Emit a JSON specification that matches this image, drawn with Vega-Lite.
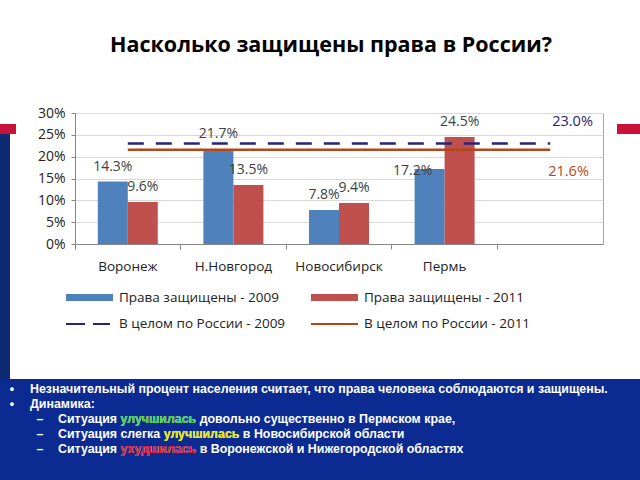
{
  "$schema": "https://vega.github.io/schema/vega-lite/v6.json",
  "padding": {"left": 0, "top": 34, "right": 0, "bottom": 0},
  "background": "white",
  "spacing": 0,
  "resolve": {"scale": {"color": "independent"}, "legend": {"color": "independent"}},
  "datasets": {
    "bars": [
      {"region": "Воронеж", "year": "2009", "series": "Права защищены - 2009", "value": 0.143},
      {"region": "Воронеж", "year": "2011", "series": "Права защищены - 2011", "value": 0.096},
      {"region": "Н.Новгород", "year": "2009", "series": "Права защищены - 2009", "value": 0.217},
      {"region": "Н.Новгород", "year": "2011", "series": "Права защищены - 2011", "value": 0.135},
      {"region": "Новосибирск", "year": "2009", "series": "Права защищены - 2009", "value": 0.078},
      {"region": "Новосибирск", "year": "2011", "series": "Права защищены - 2011", "value": 0.094},
      {"region": "Пермь", "year": "2009", "series": "Права защищены - 2009", "value": 0.172},
      {"region": "Пермь", "year": "2011", "series": "Права защищены - 2011", "value": 0.245}
    ],
    "lines": [
      {"region": "Воронеж", "series": "В целом по России - 2009", "value": 0.23},
      {"region": "Н.Новгород", "series": "В целом по России - 2009", "value": 0.23},
      {"region": "Новосибирск", "series": "В целом по России - 2009", "value": 0.23},
      {"region": "Пермь", "series": "В целом по России - 2009", "value": 0.23},
      {"region": "_", "series": "В целом по России - 2009", "value": 0.23},
      {"region": "Воронеж", "series": "В целом по России - 2011", "value": 0.216},
      {"region": "Н.Новгород", "series": "В целом по России - 2011", "value": 0.216},
      {"region": "Новосибирск", "series": "В целом по России - 2011", "value": 0.216},
      {"region": "Пермь", "series": "В целом по России - 2011", "value": 0.216},
      {"region": "_", "series": "В целом по России - 2011", "value": 0.216}
    ],
    "notes": [
      {"line": 1, "level": "top", "tone": "plain", "marker": "•", "text": "Незначительный процент населения считает, что права человека соблюдаются и защищены."},
      {"line": 2, "level": "top", "tone": "plain", "marker": "•", "text": "Динамика:"},
      {"line": 3, "level": "sub", "tone": "plain", "marker": "–", "text": "Ситуация улучшилась довольно существенно в Пермском крае,"},
      {"line": 4, "level": "sub", "tone": "plain", "marker": "–", "text": "Ситуация слегка улучшилась в Новосибирской области"},
      {"line": 5, "level": "sub", "tone": "plain", "marker": "–", "text": "Ситуация ухудшилась в Воронежской и Нижегородской областях"},
      {"line": 3, "level": "sub", "tone": "better", "marker": "", "text": "Ситуация улучшилась"},
      {"line": 4, "level": "sub", "tone": "slightly", "marker": "", "text": "Ситуация слегка улучшилась"},
      {"line": 5, "level": "sub", "tone": "worse", "marker": "", "text": "Ситуация ухудшилась"},
      {"line": 3, "level": "sub", "tone": "plain", "marker": "", "text": "Ситуация"},
      {"line": 4, "level": "sub", "tone": "plain", "marker": "", "text": "Ситуация слегка"},
      {"line": 5, "level": "sub", "tone": "plain", "marker": "", "text": "Ситуация"}
    ],
    "empty": []
  },
  "vconcat": [
    {
      "spacing": 13,
      "resolve": {"scale": {"color": "independent"}, "legend": {"color": "independent"}},
      "hconcat": [
        {
          "spacing": 0,
          "vconcat": [
            {"width": 23, "height": 11, "data": {"name": "empty"}, "mark": "point", "view": {"stroke": null}},
            {"width": 16, "height": 10, "data": {"name": "empty"}, "mark": "point", "view": {"stroke": null, "fill": "#c8123a"}},
            {"width": 10, "height": 245, "data": {"name": "empty"}, "mark": "point", "view": {"stroke": null, "fill": "#0c2a72"}}
          ]
        },
        {
          "width": 528,
          "height": 131,
          "title": {"text": "Насколько защищены права в России?", "font": "Open Sans", "fontSize": 21.5, "fontWeight": "bold", "color": "#000000", "anchor": "middle", "offset": 50, "dx": -8},
          "view": {"stroke": "#a6a6a6"},
          "encoding": {
            "x": {
              "field": "region", "type": "nominal", "title": null,
              "scale": {"domain": ["Воронеж", "Н.Новгород", "Новосибирск", "Пермь", "_"], "paddingInner": 0, "paddingOuter": 0},
              "axis": {"labelAngle": 0, "bandPosition": 0, "tickSize": 5, "labelPadding": 10, "domainColor": "#868686", "tickColor": "#868686", "labelFont": "Open Sans", "labelFontSize": 13.5, "labelColor": "#222222", "labelExpr": "datum.value == '_' ? '' : datum.label", "grid": false}
            },
            "y": {
              "field": "value", "type": "quantitative", "title": null,
              "scale": {"domain": [0, 0.3], "nice": false, "zero": true},
              "axis": {"values": [0, 0.05, 0.1, 0.15, 0.2, 0.25, 0.3], "format": ".0%", "grid": true, "gridColor": "#d9d9d9", "domainColor": "#868686", "tickColor": "#868686", "tickSize": 4, "labelPadding": 6, "labelFont": "Open Sans", "labelFontSize": 14, "labelColor": "#222222"}
            }
          },
          "layer": [
            {
              "data": {"name": "bars"},
              "mark": {"type": "bar"},
              "encoding": {
                "xOffset": {"field": "year", "type": "nominal", "scale": {"paddingInner": 0, "paddingOuter": 0.76}},
                "color": {
                  "field": "series", "type": "nominal",
                  "scale": {"domain": ["Права защищены - 2009", "Права защищены - 2011", "В целом по России - 2009", "В целом по России - 2011"], "range": ["#4f81bd", "#c0504d", "#24247a", "#b4471a"]},
                  "legend": {
                    "orient": "none", "direction": "horizontal", "legendX": -9, "legendY": 177.5, "columns": 2, "title": null, "padding": 0,
                    "clipHeight": 14, "rowPadding": 12.5, "columnPadding": 25, "symbolSize": 2209, "symbolOffset": 0,
                    "labelFont": "Open Sans", "labelFontSize": 13.5, "labelColor": "#222222", "labelOffset": 6, "labelLimit": 400,
                    "encode": {
                      "symbols": {
                        "update": {
                          "shape": {"signal": "datum.value == 'В целом по России - 2009' ? 'M-1,-0.047H-0.19V0.047H-1Z M0.15,-0.047H0.87V0.047H0.15Z' : (datum.value == 'В целом по России - 2011' ? 'M-1,-0.045H1V0.045H-1Z' : 'M-1,-0.15H1V0.15H-1Z')"},
                          "fill": {"scale": "color", "field": "value"},
                          "stroke": {"value": "transparent"},
                          "strokeWidth": {"value": 0},
                          "opacity": {"value": 1}
                        }
                      }
                    }
                  }
                }
              }
            },
            {
              "data": {"name": "bars"},
              "transform": [{"filter": "datum.value != 0.172"}],
              "mark": {"type": "text", "baseline": "middle", "align": "center", "dy": -15, "font": "Open Sans", "fontSize": 14, "color": "#404040"},
              "encoding": {
                "xOffset": {"field": "year", "type": "nominal", "scale": {"paddingInner": 0, "paddingOuter": 0.76}},
                "text": {"field": "value", "type": "quantitative", "format": ".1%"}
              }
            },
            {
              "data": {"name": "bars"},
              "transform": [{"filter": "datum.value == 0.172"}],
              "mark": {"type": "text", "baseline": "middle", "align": "center", "dx": -17, "dy": 2, "font": "Open Sans", "fontSize": 14, "color": "#404040"},
              "encoding": {
                "xOffset": {"field": "year", "type": "nominal", "scale": {"paddingInner": 0, "paddingOuter": 0.76}},
                "text": {"field": "value", "type": "quantitative", "format": ".1%"}
              }
            },
            {
              "data": {"name": "lines"},
              "mark": {"type": "line", "strokeWidth": 2.5},
              "encoding": {
                "color": {"field": "series", "type": "nominal"},
                "strokeDash": {"field": "series", "type": "nominal", "scale": {"domain": ["В целом по России - 2009", "В целом по России - 2011"], "range": [[16, 12], [1, 0]]}, "legend": null}
              }
            },
            {
              "data": {"name": "lines"},
              "transform": [{"filter": "datum.region == '_' && datum.series == 'В целом по России - 2009'"}],
              "mark": {"type": "text", "align": "left", "baseline": "middle", "dx": 2, "dy": -22, "font": "Open Sans", "fontSize": 14.5},
              "encoding": {
                "color": {"field": "series", "type": "nominal"},
                "text": {"field": "value", "type": "quantitative", "format": ".1%"}
              }
            },
            {
              "data": {"name": "lines"},
              "transform": [{"filter": "datum.region == '_' && datum.series == 'В целом по России - 2011'"}],
              "mark": {"type": "text", "align": "left", "baseline": "middle", "dx": -2, "dy": 22, "font": "Open Sans", "fontSize": 14.5},
              "encoding": {
                "color": {"field": "series", "type": "nominal"},
                "text": {"field": "value", "type": "quantitative", "format": ".1%"}
              }
            }
          ]
        },
        {
          "spacing": 0,
          "vconcat": [
            {"width": 25, "height": 11, "data": {"name": "empty"}, "mark": "point", "view": {"stroke": null}},
            {"width": 25, "height": 10, "data": {"name": "empty"}, "mark": "point", "view": {"stroke": null, "fill": "#c8123a"}}
          ]
        }
      ]
    },
    {
      "width": 640,
      "height": 104,
      "view": {"fill": "#0b2b93", "stroke": null},
      "data": {"name": "notes"},
      "encoding": {
        "x": {"field": "level", "type": "nominal", "scale": {"type": "point", "domain": ["top", "sub"], "range": [30, 58], "padding": 0}, "axis": null},
        "y": {"field": "line", "type": "quantitative", "scale": {"domain": [0.333, 7.27], "reverse": true, "nice": false, "zero": false}, "axis": null}
      },
      "layer": [
        {
          "transform": [{"filter": "datum.marker != ''"}],
          "mark": {"type": "text", "align": "center", "baseline": "middle", "dx": -18, "font": "Liberation Sans", "fontWeight": "bold", "fontSize": 12.4, "color": "#ffffff"},
          "encoding": {"text": {"field": "marker"}}
        },
        {
          "transform": [{"filter": "datum.marker != ''"}],
          "mark": {"type": "text", "align": "left", "baseline": "middle", "font": "Liberation Sans", "fontWeight": "bold", "fontSize": 12.4, "color": "#ffffff"},
          "encoding": {"text": {"field": "text"}}
        },
        {
          "transform": [{"filter": "datum.tone != 'plain'"}],
          "mark": {"type": "text", "align": "left", "baseline": "middle", "font": "Liberation Sans", "fontWeight": "bold", "fontSize": 12.4},
          "encoding": {
            "text": {"field": "text"},
            "color": {"field": "tone", "type": "nominal", "scale": {"domain": ["better", "slightly", "worse"], "range": ["#3fd43f", "#e6e600", "#e0102c"]}, "legend": null}
          }
        },
        {
          "transform": [{"filter": "datum.marker == '' && datum.tone == 'plain'"}],
          "mark": {"type": "text", "align": "left", "baseline": "middle", "font": "Liberation Sans", "fontWeight": "bold", "fontSize": 12.4, "color": "#0b2b93", "stroke": "#0b2b93", "strokeWidth": 1.6}
,
          "encoding": {"text": {"field": "text"}}
        },
        {
          "transform": [{"filter": "datum.marker == '' && datum.tone == 'plain'"}],
          "mark": {"type": "text", "align": "left", "baseline": "middle", "font": "Liberation Sans", "fontWeight": "bold", "fontSize": 12.4, "fill": "#ffffff", "stroke": null},
          "encoding": {"text": {"field": "text"}}
        }
      ]
    }
  ]
}
